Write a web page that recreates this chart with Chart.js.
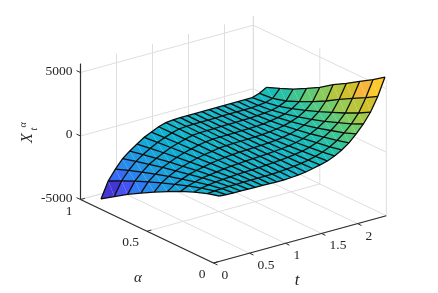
<!DOCTYPE html>
<html>
<head>
<meta charset="utf-8">
<title>X_t^alpha surface</title>
<script src="https://cdn.jsdelivr.net/npm/chart.js@4"></script>
<style>
  html, body { margin: 0; padding: 0; background: #fff; }
  canvas { display: block; }
</style>
</head>
<body>
<canvas id="chart" width="438" height="293"></canvas>
<script>
var tValues = [0.1, 0.2, 0.3, 0.4, 0.5, 0.6, 0.7, 0.8, 0.9, 1.0, 1.1, 1.2, 1.3, 1.4, 1.5, 1.6, 1.7, 1.8, 1.9, 2.0, 2.1, 2.2, 2.3, 2.4];
var alphaValues = [0.01, 0.1, 0.2, 0.3, 0.4, 0.5, 0.6, 0.7, 0.8, 0.9];

// one row per t, one column per alpha
var surfaceValues = [
  [71, -185, -567, -1012, -1528, -2067, -2646, -3248, -3921, -4614],
  [30, -140, -420, -740, -1120, -1500, -1930, -2360, -2850, -3354],
  [10, -110, -320, -570, -860, -1150, -1470, -1810, -2180, -2567],
  [0, -90, -240, -420, -640, -860, -1100, -1350, -1620, -1906],
  [-10, -80, -190, -330, -490, -660, -840, -1030, -1240, -1457],
  [-20, -70, -150, -250, -360, -480, -610, -750, -900, -1063],
  [-30, -60, -110, -170, -240, -320, -400, -490, -590, -693],
  [-40, -55, -80, -110, -150, -200, -250, -310, -370, -430],
  [-50, -50, -60, -70, -80, -100, -120, -140, -150, -165],
  [-63, -50, -40, -30, -20, -10, -5, 0, 0, 0],
  [-24, -10, 0, 10, 20, 30, 40, 50, 60, 60],
  [20, 30, 40, 40, 50, 50, 60, 70, 80, 90],
  [100, 90, 80, 70, 70, 70, 70, 70, 80, 90],
  [220, 180, 140, 110, 90, 80, 80, 80, 80, 90],
  [346, 280, 220, 170, 130, 100, 90, 90, 90, 90],
  [504, 410, 320, 240, 180, 130, 100, 100, 100, 100],
  [740, 600, 470, 350, 260, 180, 130, 110, 100, 100],
  [1063, 860, 680, 510, 370, 260, 170, 120, 110, 100],
  [1457, 1200, 960, 730, 540, 370, 240, 150, 110, 100],
  [2008, 1650, 1330, 1020, 760, 530, 340, 200, 120, 100],
  [2638, 2200, 1800, 1400, 1050, 750, 480, 270, 160, 100],
  [3425, 2900, 2400, 1950, 1500, 1100, 750, 420, 230, 110],
  [4496, 3950, 3400, 2823, 2189, 1634, 1134, 689, 401, 295],
  [5866, 5209, 4583, 3925, 3315, 2610, 2031, 1476, 1031, 610]
];

var tTicks = [0, 0.5, 1, 1.5, 2];
var alphaTicks = [0, 0.5, 1];
var zTicks = [-5000, 0, 5000];
var tTickLabels = ['0', '0.5', '1', '1.5', '2'];
var alphaTickLabels = ['0', '0.5', '1'];
var zTickLabels = ['-5000', '0', '5000'];

var tMax = 2.4;
var zMin = -5000;
var zMax = 5700;

// parula, sampled every 0.05
var colormap = [
  [62, 38, 168], [65, 45, 200], [68, 55, 218], [70, 85, 245], [45, 125, 245], [38, 140, 235],
  [30, 155, 225], [20, 165, 218], [12, 175, 210], [18, 182, 200], [25, 190, 180], [50, 196, 155],
  [85, 202, 125], [120, 205, 100], [160, 202, 75], [190, 196, 55], [212, 192, 42], [248, 182, 58],
  [253, 198, 45], [250, 225, 35], [249, 251, 21]
];

function project(t, a, z) {
  return {
    x: 80.5 + 72 * t + 133 * (1 - a),
    y: 199.5 - 19.7 * t + 63.5 * (1 - a) - (z - zMin) * 0.0127
  };
}

function cellColor(z) {
  var all = surfaceValues.flat();
  var lo = Math.min.apply(null, all);
  var hi = Math.max.apply(null, all);
  var f = Math.max(0, Math.min(0.9999, (z - lo) / (hi - lo))) * (colormap.length - 1);
  var i = Math.floor(f);
  var c = [0, 1, 2].map(function (k) {
    return Math.round(colormap[i][k] + (colormap[i + 1][k] - colormap[i][k]) * (f - i));
  });
  return 'rgb(' + c.join(',') + ')';
}

var layers = [];

function addLine(points, color, width) {
  layers.push({
    data: points,
    showLine: true,
    fill: false,
    tension: 0,
    borderColor: color,
    borderWidth: width,
    pointRadius: 0
  });
}

function addPolygon(points, color) {
  layers.push({
    data: points,
    showLine: true,
    fill: 'shape',
    tension: 0,
    backgroundColor: color,
    borderWidth: 0,
    pointRadius: 0
  });
}

// box grid
var gridColor = '#dedede';
tTicks.forEach(function (t) {
  addLine([project(t, 0, zMin), project(t, 1, zMin), project(t, 1, zMax)], gridColor, 1);
});
alphaTicks.forEach(function (a) {
  addLine([project(0, a, zMin), project(tMax, a, zMin), project(tMax, a, zMax)], gridColor, 1);
});
zTicks.forEach(function (z) {
  addLine([project(0, 1, z), project(tMax, 1, z), project(tMax, 0, z)], gridColor, 1);
});
addLine([project(tMax, 1, zMin), project(tMax, 1, zMax)], gridColor, 1);

// surface, two triangles per cell
tValues.slice(0, -1).forEach(function (t, i) {
  alphaValues.slice(0, -1).forEach(function (a, j) {
    var a2 = alphaValues[j + 1];
    var t2 = tValues[i + 1];
    var mean = (surfaceValues[i][j] + surfaceValues[i][j + 1] + surfaceValues[i + 1][j] + surfaceValues[i + 1][j + 1]) / 4;
    var color = cellColor(mean);
    var p1 = project(t, a, surfaceValues[i][j]);
    var p2 = project(t, a2, surfaceValues[i][j + 1]);
    var p3 = project(t2, a2, surfaceValues[i + 1][j + 1]);
    var p4 = project(t2, a, surfaceValues[i + 1][j]);
    addPolygon([p1, p3, p4], color);
    addPolygon([p1, p2, p3], color);
  });
});

// surface mesh
var meshColor = '#0c0c0c';
tValues.forEach(function (t, i) {
  addLine(alphaValues.map(function (a, j) {
    return project(t, a, surfaceValues[i][j]);
  }), meshColor, 1.3);
});
alphaValues.forEach(function (a, j) {
  addLine(tValues.map(function (t, i) {
    return project(t, a, surfaceValues[i][j]);
  }), meshColor, 1.3);
});

// axes and tick marks
var axisColor = '#2e2e2e';
addLine([project(0, 1, zMin), project(0, 1, zMax)], axisColor, 1.2);
addLine([project(0, 1, zMin), project(0, 0, zMin)], axisColor, 1.2);
addLine([project(0, 0, zMin), project(tMax, 0, zMin)], axisColor, 1.2);
zTicks.forEach(function (z) {
  addLine([project(0, 1, z), project(0, 1.03, z)], axisColor, 1);
});
alphaTicks.forEach(function (a) {
  addLine([project(0, a, zMin), project(0.06, a, zMin)], axisColor, 1);
});
tTicks.forEach(function (t) {
  addLine([project(t, 0, zMin), project(t, -0.03, zMin)], axisColor, 1);
});

var axisText = {
  id: 'axisText',
  afterDraw: function (chart) {
    var ctx = chart.ctx;
    var sx = chart.scales.x;
    var sy = chart.scales.y;
    function put(p, dx, dy, text, align, font) {
      ctx.textAlign = align;
      ctx.font = font;
      ctx.fillText(text, sx.getPixelForValue(p.x) + dx, sy.getPixelForValue(p.y) + dy);
    }
    var tickFont = '13.5px "Liberation Serif"';
    ctx.save();
    ctx.fillStyle = '#262626';
    ctx.textBaseline = 'middle';
    zTicks.forEach(function (z, i) {
      put(project(0, 1, z), -8, -1.5, zTickLabels[i], 'right', tickFont);
    });
    alphaTicks.forEach(function (a, i) {
      put(project(0, a, zMin), -8, 11.5, alphaTickLabels[i], 'right', tickFont);
    });
    tTicks.forEach(function (t, i) {
      put(project(t, 0, zMin), 8, 12.5, tTickLabels[i], 'left', tickFont);
    });
    ctx.textAlign = 'center';
    ctx.font = 'italic 15px "Liberation Serif"';
    ctx.fillText('α', 138, 278);
    ctx.font = 'italic 17px "Liberation Serif"';
    ctx.fillText('t', 297, 281);

    ctx.translate(28, 138);
    ctx.rotate(-Math.PI / 2);
    ctx.font = 'italic 16px "Liberation Serif"';
    ctx.fillText('X', 0, 0);
    ctx.font = 'italic 10px "Liberation Serif"';
    ctx.fillText('α', 13, -5);
    ctx.fillText('t', 9, 6);
    ctx.restore();
  }
};

new Chart(document.getElementById('chart'), {
  type: 'scatter',
  data: { datasets: layers.reverse() },
  options: {
    responsive: false,
    animation: false,
    parsing: false,
    layout: { padding: 0 },
    plugins: {
      legend: { display: false },
      tooltip: { enabled: false }
    },
    scales: {
      x: { type: 'linear', display: false, min: 0, max: 438 },
      y: { type: 'linear', display: false, min: 0, max: 293, reverse: true }
    }
  },
  plugins: [axisText]
});
</script>
</body>
</html>
